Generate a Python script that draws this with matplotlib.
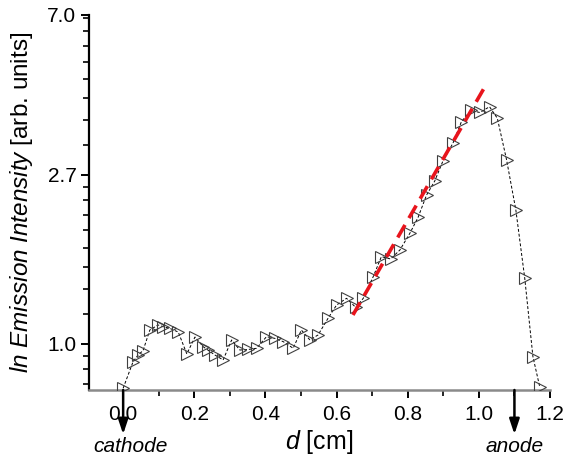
import numpy as np
import matplotlib
matplotlib.use("Agg")
import matplotlib.pyplot as plt
from matplotlib.ticker import FixedLocator, NullFormatter

plt.rcParams['font.family'] = ['Liberation Sans', 'DejaVu Sans']
plt.rcParams['mathtext.fontset'] = 'custom'
plt.rcParams['mathtext.rm'] = 'Liberation Sans'
plt.rcParams['mathtext.it'] = 'Liberation Sans:italic'

# distance from cathode [cm] and emission intensity [arb. units]
d_cm = [0.000, 0.028, 0.042, 0.056, 0.075, 0.098, 0.112, 0.131, 0.155, 0.179,
        0.202, 0.225, 0.238, 0.258, 0.281, 0.305, 0.328, 0.351, 0.375, 0.403,
        0.426, 0.450, 0.478, 0.501, 0.525, 0.548, 0.576, 0.600, 0.628, 0.654,
        0.675, 0.703, 0.726, 0.752, 0.778, 0.806, 0.829, 0.853, 0.876, 0.899,
        0.927, 0.951, 0.977, 1.003, 1.030, 1.052, 1.078, 1.104, 1.129, 1.152,
        1.171]
intensity = [0.768, 0.899, 0.935, 0.960, 1.084, 1.117, 1.106, 1.095, 1.071, 0.941,
             1.040, 0.982, 0.963, 0.935, 0.908, 1.022, 0.963, 0.966, 0.973, 1.042,
             1.032, 1.012, 0.973, 1.084, 1.022, 1.053, 1.162, 1.257, 1.308, 1.239,
             1.308, 1.487, 1.674, 1.651, 1.741, 1.922, 2.111, 2.411, 2.620, 2.949,
             3.275, 3.722, 3.977, 3.930, 4.067, 3.797, 2.967, 2.206, 1.473, 0.926,
             0.775]

# exponential fit over the rising part
fit_d = [0.646, 1.017]
fit_i = [1.185, 4.578]

y_ticks = [1.0, np.e, 7.0]
y_ticklabels = ['1.0', '2.7', '7.0']
x_ticks = [0.0, 0.2, 0.4, 0.6, 0.8, 1.0, 1.2]

fig = plt.figure(figsize=(5.64, 4.59), dpi=100)
ax = fig.add_axes([89 / 564, 1 - 390 / 459, 461 / 564, 375 / 459])

ax.plot(d_cm, intensity, color='black', lw=0.7, ls=(0, (3, 2)),
        marker='>', markersize=8.5, markerfacecolor='none',
        markeredgecolor='#404040', markeredgewidth=0.8, zorder=3)
ax.plot(fit_d, fit_i, color='#e8141c', lw=2.6, ls=(0, (4, 2.2)), zorder=4)

ax.set_yscale('log')
ax.set_ylim(0.76, 7.0)
ax.set_xlim(-0.096, 1.2)

ax.yaxis.set_major_locator(FixedLocator(y_ticks))
ax.set_yticklabels(y_ticklabels)
minor_y = [1 - k * (1 - np.exp(-1)) / 9 for k in range(1, 4)]
minor_y += [1 + k * (np.e - 1) / 9 for k in range(1, 9)]
minor_y += [np.e + k * (np.e ** 2 - np.e) / 9 for k in range(1, 9)]
ax.yaxis.set_minor_locator(FixedLocator(minor_y))
ax.yaxis.set_minor_formatter(NullFormatter())

ax.set_xticks(x_ticks)
ax.set_xticklabels([f'{t:.1f}' for t in x_ticks])
ax.xaxis.set_minor_locator(FixedLocator(np.arange(0.1, 1.2, 0.2)))

for side in ('top', 'right'):
    ax.spines[side].set_visible(False)
ax.spines['left'].set_linewidth(1.6)
ax.spines['left'].set_color('black')
ax.spines['bottom'].set_linewidth(1.8)
ax.spines['bottom'].set_color('#8a8a8a')

ax.tick_params(which='major', direction='out', length=6, width=1.4,
               labelsize=15, color='black')
ax.tick_params(axis='x', which='major', pad=5)
ax.tick_params(axis='y', which='major', pad=3)
ax.tick_params(which='minor', direction='out', length=4, width=1.2, color='black')

ax.set_xlabel(r'$\mathit{d}$ [cm]', fontsize=18)
ax.set_ylabel(r'$\mathit{ln\ Emission\ Intensity}$ [arb. units]', fontsize=17.5)
ax.xaxis.set_label_coords(0.5, -0.101)
ax.yaxis.set_label_coords(-0.117, 0.5)

# electrode markers below the axis
xtrans = ax.get_xaxis_transform()
for xpos, name, tx in [(0.0, 'cathode', 0.022), (1.1, 'anode', 1.1)]:
    ax.annotate('', xy=(xpos, -0.118), xycoords=xtrans,
                xytext=(xpos, 0.0), textcoords=xtrans,
                arrowprops=dict(arrowstyle='-|>,head_length=0.9,head_width=0.3',
                                color='black', lw=1.8, shrinkA=0, shrinkB=0),
                annotation_clip=False)
    ax.text(tx, -0.152, name, transform=xtrans, fontsize=15, style='italic',
            ha='center', va='center')

fig.savefig('out.png', dpi=100)
